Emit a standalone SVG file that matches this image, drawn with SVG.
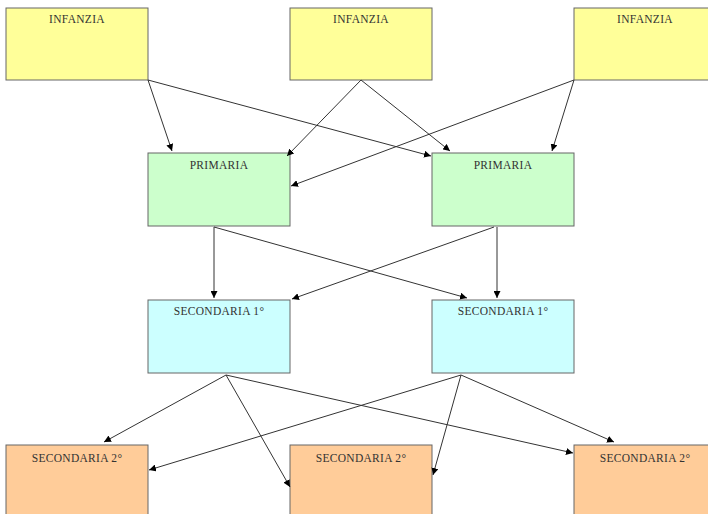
<svg xmlns="http://www.w3.org/2000/svg" width="708" height="514" viewBox="0 0 708 514">
<defs>
<marker id="ah" viewBox="0 0 10 10" refX="10" refY="5" markerWidth="7" markerHeight="7" markerUnits="userSpaceOnUse" orient="auto">
<path d="M0,0 L10,5 L0,10 z" fill="#000"/>
</marker>
<style>
.box{stroke:#666;stroke-width:1}
.inf{fill:#FFFF99}
.pri{fill:#CCFFCC}
.s1{fill:#CCFFFF}
.s2{fill:#FFCC99}
text{font-family:"Liberation Serif","DejaVu Serif",serif;font-size:11.5px;letter-spacing:0.3px;fill:#333;text-anchor:middle}
.c line{stroke:#333;stroke-width:1;marker-end:url(#ah)}
</style>
</defs>
<rect width="708" height="514" fill="#fff"/>
<g id="infanzia1"><rect class="box inf" x="6" y="8" width="142" height="72"/><text x="77" y="23">INFANZIA</text></g>
<g id="infanzia2"><rect class="box inf" x="290" y="8" width="142" height="72"/><text x="361" y="23">INFANZIA</text></g>
<g id="infanzia3"><rect class="box inf" x="574" y="8" width="142" height="72"/><text x="645" y="23">INFANZIA</text></g>
<g id="primaria1"><rect class="box pri" x="148" y="153" width="142" height="73"/><text x="219" y="169">PRIMARIA</text></g>
<g id="primaria2"><rect class="box pri" x="432" y="153" width="142" height="73"/><text x="503" y="169">PRIMARIA</text></g>
<g id="sec1a"><rect class="box s1" x="148" y="300" width="142" height="73"/><text x="219" y="315">SECONDARIA 1°</text></g>
<g id="sec1b"><rect class="box s1" x="432" y="300" width="142" height="73"/><text x="503" y="315">SECONDARIA 1°</text></g>
<g id="sec2a"><rect class="box s2" x="6" y="445" width="142" height="73"/><text x="77" y="462">SECONDARIA 2°</text></g>
<g id="sec2b"><rect class="box s2" x="290" y="445" width="142" height="73"/><text x="361" y="462">SECONDARIA 2°</text></g>
<g id="sec2c"><rect class="box s2" x="574" y="445" width="142" height="73"/><text x="645" y="462">SECONDARIA 2°</text></g>
<g id="connectors" class="c">
<line x1="148" y1="80" x2="172" y2="151"/>
<line x1="148" y1="80" x2="431" y2="156"/>
<line x1="361" y1="80" x2="287" y2="156"/>
<line x1="361" y1="80" x2="450" y2="151"/>
<line x1="574" y1="80" x2="291" y2="186"/>
<line x1="574" y1="80" x2="552" y2="151"/>
<line x1="214" y1="227" x2="214" y2="298"/>
<line x1="214" y1="227" x2="467" y2="298"/>
<line x1="494" y1="227" x2="292" y2="299"/>
<line x1="497" y1="227" x2="497" y2="298"/>
<line x1="226" y1="375" x2="104" y2="442"/>
<line x1="226" y1="375" x2="290" y2="487"/>
<line x1="226" y1="375" x2="573" y2="453"/>
<line x1="461" y1="375" x2="149" y2="470"/>
<line x1="461" y1="375" x2="433" y2="475"/>
<line x1="461" y1="375" x2="614" y2="442"/>
</g>
</svg>
